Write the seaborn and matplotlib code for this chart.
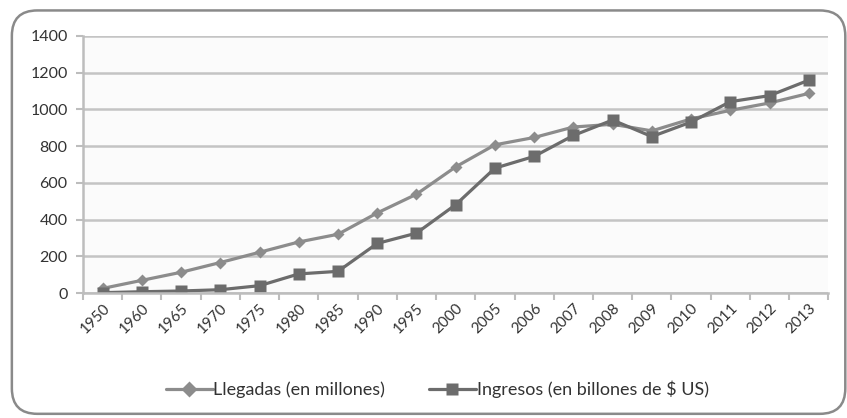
import pandas as pd
import matplotlib.pyplot as plt
import seaborn as sns
from matplotlib.patches import FancyBboxPatch
from matplotlib.ticker import FixedLocator

# values
years = ['1950', '1960', '1965', '1970', '1975', '1980', '1985', '1990', '1995', '2000',
         '2005', '2006', '2007', '2008', '2009', '2010', '2011', '2012', '2013']
llegadas = [25, 69, 113, 166, 222, 278, 320, 436, 538, 687,
            807, 847, 904, 919, 883, 948, 995, 1035, 1087]
ingresos = [2, 7, 11, 18, 40, 104, 118, 270, 326, 481,
            680, 744, 858, 942, 852, 931, 1042, 1075, 1159]
label_lleg = 'Llegadas (en millones)'
label_ingr = 'Ingresos (en billones de $ US)'

sns.set_style('white')
plt.rcParams['font.family'] = ['Lato', 'DejaVu Sans']

df = pd.DataFrame({'Año': years, label_lleg: llegadas, label_ingr: ingresos})
long_df = df.melt(id_vars='Año', var_name='Serie', value_name='Valor')

fig = plt.figure(figsize=(8.47, 4.18), dpi=100)
ax = fig.add_axes([0.098, 0.299, 0.880, 0.615])

# rounded chart frame like the spreadsheet chart area
frame = FancyBboxPatch((0.014, 0.01), 0.984, 0.965, boxstyle='round,pad=0,rounding_size=0.03',
                       transform=fig.transFigure, facecolor='white', edgecolor='#8a8a8a',
                       linewidth=1.8, zorder=-10, mutation_aspect=847 / 418)
fig.patches.append(frame)

sns.lineplot(data=long_df, x='Año', y='Valor', hue='Serie', style='Serie',
             palette={label_lleg: '#8c8c8c', label_ingr: '#6c6c6c'},
             markers={label_lleg: 'D', label_ingr: 's'},
             dashes=False, markersize=8, linewidth=2.3, ax=ax,
             markeredgecolor='none', sort=False)
# diamond a bit smaller than the squares
ax.lines[0].set_markersize(6.5)
ax.lines[1].set_markersize(9)

ax.set_facecolor('#fbfbfb')
ax.set_ylim(0, 1400)
ax.set_xlim(-0.5, len(years) - 0.5)
ax.set_yticks(range(0, 1401, 200))
ax.yaxis.grid(True, color='#c4c4c4', linewidth=1.8)
ax.set_axisbelow(True)
ax.set_xlabel('')
ax.set_ylabel('')

for side in ['top', 'right']:
    ax.spines[side].set_visible(False)
for side in ['left', 'bottom']:
    ax.spines[side].set_color('#bdbdbd')
    ax.spines[side].set_linewidth(1.8)

ax.tick_params(axis='y', labelsize=11.5, labelcolor='#333333', length=5, width=1.5,
               color='#bdbdbd', direction='out', left=True, pad=6)
plt.setp(ax.get_xticklabels(), rotation=45, ha='right', rotation_mode='anchor')
ax.tick_params(axis='x', which='major', length=0, labelsize=11, labelcolor='#333333', pad=6)
ax.xaxis.set_minor_locator(FixedLocator([i - 0.5 for i in range(len(years) + 1)]))
ax.tick_params(axis='x', which='minor', length=5, width=1.5, color='#bdbdbd', bottom=True, direction='out')

leg = ax.legend(loc='center', bbox_to_anchor=(0.475, -0.374), ncol=2, frameon=False,
                fontsize=13, handlelength=2.6, columnspacing=2.4, handletextpad=0.05)
for t in leg.get_texts():
    t.set_color('#333333')

fig.savefig('out.png', dpi=100)
